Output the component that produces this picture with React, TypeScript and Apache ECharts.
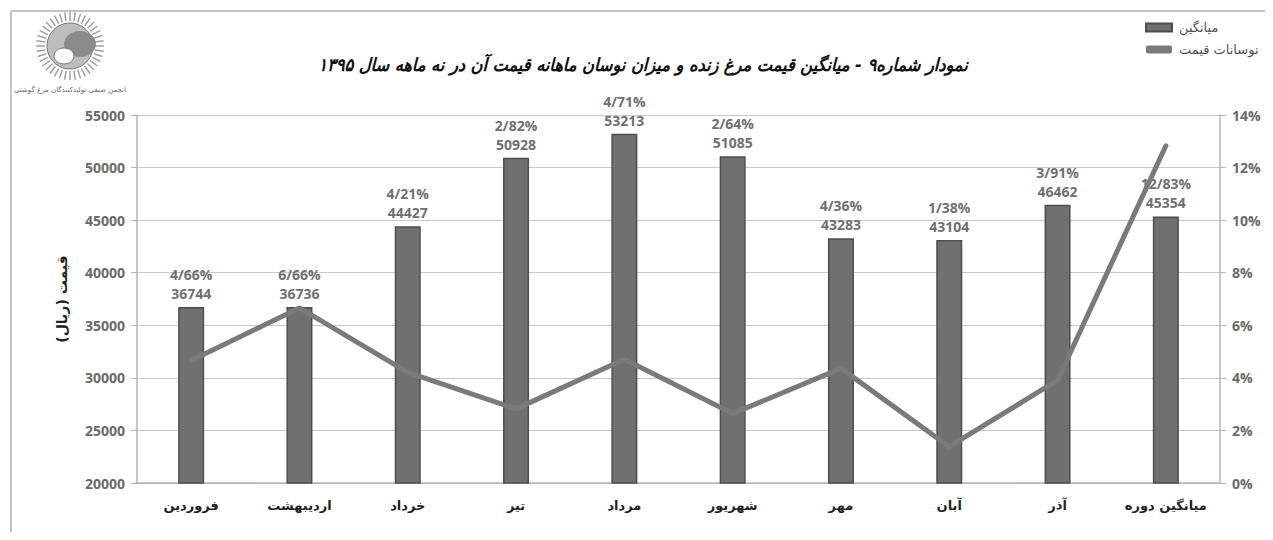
import React, { useEffect, useRef } from "react";
import * as echarts from "echarts";

const categories = ["فروردین", "اردیبهشت", "خرداد", "تیر", "مرداد", "شهریور", "مهر", "آبان", "آذر", "میانگین دوره"];
const avgPrice = [36744, 36736, 44427, 50928, 53213, 51085, 43283, 43104, 46462, 45354];
const fluctuation = [4.66, 6.66, 4.21, 2.82, 4.71, 2.64, 4.36, 1.38, 3.91, 12.83];
const titleText = "نمودار شماره۹ - میانگین قیمت مرغ زنده و میزان نوسان ماهانه قیمت آن در نه ماهه سال ۱۳۹۵";
const seriesNames = ["میانگین", "نوسانات قیمت"];
const yAxisName = "قیمت (ریال)";

const pctText = (v: number) => v.toFixed(2).replace(".", "/") + "%";

export default function App() {
  const ref = useRef<HTMLDivElement>(null);
  useEffect(() => {
    if (!ref.current) return;
    const chart = echarts.init(ref.current, null, { renderer: "svg" });
    const rays: any[] = [];
    for (let i = 0; i < 40; i++) {
      const a = (i / 40) * Math.PI * 2;
      rays.push({
        type: "line",
        shape: { x1: 70 + Math.cos(a) * 25, y1: 46 + Math.sin(a) * 25, x2: 70 + Math.cos(a) * 34, y2: 46 + Math.sin(a) * 34 },
        style: { stroke: "#a0a0a0", lineWidth: 1.5 },
      });
    }
    chart.setOption({
      animation: false,
      backgroundColor: "#ffffff",
      title: {
        text: titleText,
        left: 638,
        top: 50,
        textAlign: "center",
        textStyle: { fontFamily: "DejaVu Sans Condensed", fontStyle: "italic", fontSize: 18, fontWeight: "bold", color: "#111" },
      },
      legend: {
        left: 1140,
        top: 16,
        orient: "vertical",
        align: "left",
        itemGap: 9,
        itemWidth: 26,
        itemHeight: 8,
        textStyle: { fontFamily: "DejaVu Sans", fontSize: 13, color: "#555", padding: [0, 0, 0, 2] },
        data: [
          { name: seriesNames[0], icon: "rect" },
          { name: seriesNames[1], icon: "roundRect" },
        ],
      },
      graphic: [
        { type: "line", shape: { x1: 11, y1: 11, x2: 1273, y2: 11 }, style: { stroke: "#c4c4c4", lineWidth: 2 } },
        { type: "line", shape: { x1: 11, y1: 11, x2: 11, y2: 540 }, style: { stroke: "#c4c4c4", lineWidth: 2 } },
        ...rays,
        { type: "circle", shape: { cx: 70, cy: 46, r: 23 }, style: { fill: "#bdbdbd", stroke: "#777", lineWidth: 1 } },
        { type: "ellipse", shape: { cx: 80, cy: 44, rx: 16, ry: 13 }, style: { fill: "#8c8c8c" } },
        { type: "ellipse", shape: { cx: 64, cy: 56, rx: 10, ry: 8 }, style: { fill: "#ffffff", stroke: "#777", lineWidth: 1 } },
        {
          type: "text",
          style: { text: "انجمن صنفی تولیدکنندگان مرغ گوشتی", x: 70, y: 86, align: "center", fontSize: 7, fill: "#666", fontFamily: "DejaVu Sans" },
        },
      ],
      grid: { left: 137, right: 53, top: 115, bottom: 57 },
      xAxis: {
        type: "category",
        data: categories,
        axisLine: { lineStyle: { color: "#b5b5b5", width: 1.5 } },
        axisTick: { show: false },
        axisLabel: { margin: 16, fontFamily: "DejaVu Sans", fontWeight: "bold", fontSize: 13, color: "#222" },
      },
      yAxis: [
        {
          type: "value",
          min: 20000,
          max: 55000,
          interval: 5000,
          name: yAxisName,
          nameLocation: "middle",
          nameGap: 68,
          nameRotate: 90,
          nameTextStyle: { fontFamily: "DejaVu Sans", fontWeight: "bold", fontSize: 14, color: "#222" },
          axisLine: { show: true, lineStyle: { color: "#b5b5b5", width: 1.5 } },
          axisTick: { show: true, length: 6, lineStyle: { color: "#b5b5b5" } },
          axisLabel: { margin: 12, formatter: (v: number) => String(v), fontFamily: "Open Sans", fontWeight: "bold", fontSize: 14, color: "#6a6a6a" },
          splitLine: { lineStyle: { color: "#c8c8c8", width: 1.2 } },
        },
        {
          type: "value",
          min: 0,
          max: 14,
          interval: 2,
          position: "right",
          axisLine: { show: true, lineStyle: { color: "#b5b5b5", width: 1.5 } },
          axisTick: { show: true, length: 6, lineStyle: { color: "#b5b5b5" } },
          axisLabel: { margin: 12, formatter: (v: number) => v + "%", fontFamily: "Open Sans", fontWeight: "bold", fontSize: 14, color: "#6a6a6a" },
          splitLine: { show: false },
        },
      ],
      series: [
        {
          name: seriesNames[0],
          type: "bar",
          data: avgPrice,
          barWidth: 26,
          itemStyle: { color: "#707070", borderColor: "#4e4e4e", borderWidth: 1.5 },
          label: {
            show: true,
            position: "top",
            distance: 4,
            formatter: (p: any) => pctText(fluctuation[p.dataIndex]) + "\n" + p.value,
            fontFamily: "Open Sans",
            fontWeight: "bold",
            fontSize: 14,
            lineHeight: 19,
            color: "#707070",
          },
        },
        {
          name: seriesNames[1],
          type: "line",
          yAxisIndex: 1,
          data: fluctuation,
          showSymbol: false,
          symbol: "none",
          lineStyle: { color: "#7a7a7a", width: 5, cap: "round", join: "round" },
          itemStyle: { color: "#7a7a7a" },
          z: 3,
        },
      ],
    });
    return () => chart.dispose();
  }, []);
  return <div ref={ref} style={{ width: 1273, height: 540, margin: -8 }} />;
}
